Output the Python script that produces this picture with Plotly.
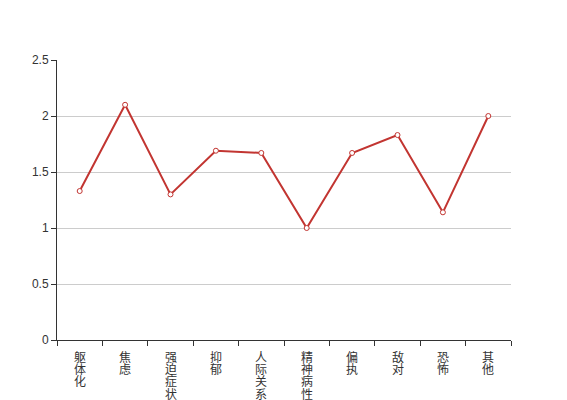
import plotly.graph_objects as go

categories = ["躯体化", "焦虑", "强迫症状", "抑郁", "人际关系敏感", "精神病性", "偏执", "敌对", "恐怖", "其他"]
values = [1.33, 2.1, 1.3, 1.69, 1.67, 1.0, 1.67, 1.83, 1.14, 2.0]
y_ticks = [0, 0.5, 1, 1.5, 2, 2.5]
y_tick_text = ["0", "0.5", "1", "1.5", "2", "2.5"]

LABEL_LINE = 12.2  # vertical spacing of stacked characters (px)
LABEL_GAP = 7      # gap between axis and first character (px)

fig = go.Figure()
fig.add_trace(go.Scatter(
    x=categories, y=values, mode="lines+markers",
    line=dict(color="#c23531", width=2),
    marker=dict(symbol="circle", size=5, color="white", line=dict(color="#c23531", width=1)),
    hoverinfo="x+y",
))

# vertical category labels, one character per line (ECharts-like tight spacing)
for cat in categories:
    for i, ch in enumerate(cat):
        fig.add_annotation(
            x=cat, y=0, xref="x", yref="y", text=ch, showarrow=False,
            xanchor="center", yanchor="top", yshift=-(LABEL_GAP + LABEL_LINE * i),
            font=dict(family="Noto Sans CJK SC", size=12, color="#333"),
            borderpad=0,
        )

fig.update_layout(
    width=567, height=400,
    margin=dict(l=49, r=64, t=52, b=68, autoexpand=False),
    paper_bgcolor="white", plot_bgcolor="white",
    showlegend=False,
    font=dict(family="Liberation Sans, Arial, Noto Sans CJK SC", size=12, color="#333"),
)
fig.update_xaxes(
    type="category", range=[-0.5, 9.5],
    showticklabels=False,
    tickson="boundaries", ticks="outside", ticklen=5, tickcolor="#333",
    showline=True, linecolor="#333", linewidth=1,
    showgrid=False, zeroline=False, automargin=False,
)
fig.update_yaxes(
    range=[0, 2.5], tickmode="array", tickvals=y_ticks, ticktext=y_tick_text,
    ticks="outside", ticklen=5, tickcolor="#333",
    showline=True, linecolor="#333", linewidth=1,
    showgrid=True, gridcolor="#ccc", gridwidth=1, zeroline=False, automargin=False,
    tickfont=dict(family="Liberation Sans, Arial", size=12, color="#333"),
)

fig.write_html("out.html")
